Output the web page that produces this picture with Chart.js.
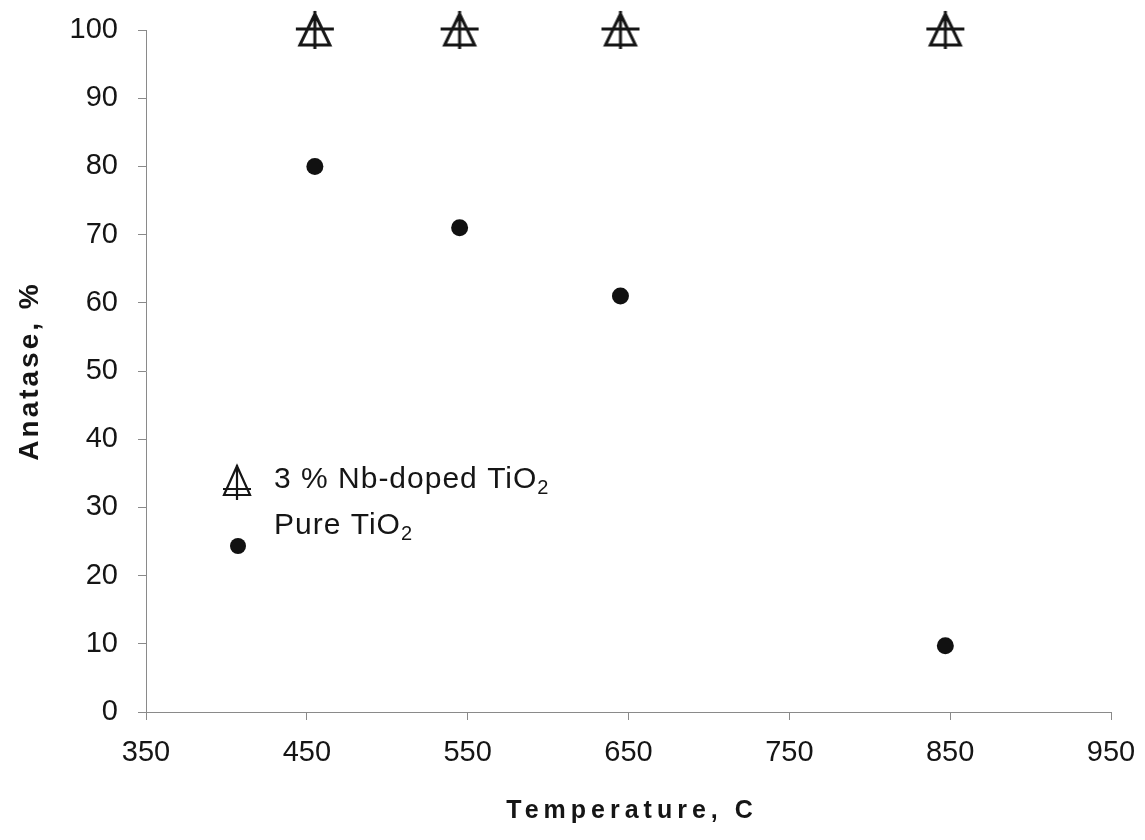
<!DOCTYPE html>
<html>
<head>
<meta charset="utf-8">
<script src="https://cdn.jsdelivr.net/npm/chart.js@4.4.0/dist/chart.umd.min.js"></script>
<style>
  html, body { margin: 0; padding: 0; background: #fff; }
  #wrap { width: 1145px; height: 840px; }
</style>
</head>
<body>
<div id="wrap"><canvas id="chartAnatase" width="1145" height="840"></canvas></div>
<script>
// dados: temperatura de calcinacao x fracao de anatase
const temperaturas = [455, 545, 645, 847];
const anataseNb = [100, 100, 100, 100];
const anatasePuro = [80, 71, 61, 9.7];

const ticksX = [350, 450, 550, 650, 750, 850, 950];
const ticksY = [0, 10, 20, 30, 40, 50, 60, 70, 80, 90, 100];

const legendaNb = ['3 % Nb-doped TiO', '2'];
const legendaPuro = ['Pure TiO', '2'];

const FONTE = '"Liberation Sans", Arial, sans-serif';
const COR_TEXTO = '#151515';
const COR_EIXO = '#8a8a8a';

// triangulo cortado por uma cruz (marcador da serie dopada)
function desenharTriangulo(ctx, cx, cy, meia, topo, base, barraY, barraMeia, vTopo, vBase) {
  ctx.beginPath();
  ctx.moveTo(cx, cy + topo);
  ctx.lineTo(cx + meia, cy + base);
  ctx.lineTo(cx - meia, cy + base);
  ctx.closePath();
  ctx.moveTo(cx - barraMeia, cy + barraY);
  ctx.lineTo(cx + barraMeia, cy + barraY);
  ctx.moveTo(cx, cy + vTopo);
  ctx.lineTo(cx, cy + vBase);
  ctx.stroke();
}

function criarMarcador() {
  const c = document.createElement('canvas');
  c.width = 48;
  c.height = 48;
  const g = c.getContext('2d');
  g.strokeStyle = COR_TEXTO;
  g.lineWidth = 3;
  g.lineJoin = 'miter';
  desenharTriangulo(g, 24, 24, 15, -16, 15, -1, 19, -19, 19);
  return c;
}

const marcadorNb = criarMarcador();

function pontos(xs, ys) {
  return xs.map((x, i) => ({ x: x, y: ys[i] }));
}

// titulos dos eixos (com espacamento entre letras) e legenda dentro do grafico
const extras = {
  id: 'extras',
  afterDraw(chart) {
    const ctx = chart.ctx;
    ctx.save();
    ctx.fillStyle = COR_TEXTO;
    ctx.textBaseline = 'alphabetic';

    ctx.font = 'bold 25px ' + FONTE;
    ctx.letterSpacing = '5px';
    ctx.textAlign = 'center';
    ctx.fillText('Temperature, C', 632, 818);

    ctx.save();
    ctx.translate(38, 371);
    ctx.rotate(-Math.PI / 2);
    ctx.font = 'bold 28px ' + FONTE;
    ctx.letterSpacing = '3px';
    ctx.fillText('Anatase, %', 0, 0);
    ctx.restore();

    // legenda
    ctx.letterSpacing = '1px';
    ctx.textAlign = 'left';
    const linhas = [
      { partes: legendaNb, y: 488 },
      { partes: legendaPuro, y: 534 }
    ];
    linhas.forEach(l => {
      ctx.font = '30px ' + FONTE;
      ctx.fillText(l.partes[0], 274, l.y);
      const w = ctx.measureText(l.partes[0]).width;
      ctx.font = '20px ' + FONTE;
      ctx.fillText(l.partes[1], 274 + w, l.y + 6);
    });

    ctx.strokeStyle = COR_TEXTO;
    ctx.lineWidth = 2.2;
    desenharTriangulo(ctx, 237, 481, 13, -15, 14, 8, 14, -16, 19);

    ctx.fillStyle = '#111';
    ctx.beginPath();
    ctx.arc(238, 546, 8, 0, Math.PI * 2);
    ctx.fill();
    ctx.restore();
  }
};

new Chart(document.getElementById('chartAnatase'), {
  type: 'scatter',
  data: {
    datasets: [
      {
        label: legendaNb.join(''),
        data: pontos(temperaturas, anataseNb),
        pointStyle: marcadorNb,
        clip: false
      },
      {
        label: legendaPuro.join(''),
        data: pontos(temperaturas, anatasePuro),
        pointStyle: 'circle',
        pointRadius: 8.5,
        backgroundColor: '#111',
        borderWidth: 0,
        clip: false
      }
    ]
  },
  options: {
    responsive: false,
    animation: false,
    layout: {
      padding: { left: 0, right: 34, top: 30, bottom: 0 }
    },
    plugins: {
      legend: { display: false },
      tooltip: { enabled: false }
    },
    scales: {
      x: {
        type: 'linear',
        min: 350,
        max: 950,
        afterBuildTicks: (scale) => { scale.ticks = ticksX.map(v => ({ value: v })); },
        afterFit: (scale) => {
          scale.height = 128;
          scale.paddingLeft = 0;
          scale.paddingRight = 0;
        },
        grid: { drawOnChartArea: false, color: COR_EIXO, tickLength: 8 },
        border: { color: COR_EIXO, width: 1 },
        ticks: {
          color: COR_TEXTO,
          padding: 16,
          font: { family: FONTE, size: 29 }
        }
      },
      y: {
        min: 0,
        max: 100,
        afterBuildTicks: (scale) => { scale.ticks = ticksY.map(v => ({ value: v })); },
        afterFit: (scale) => {
          scale.width = 146;
          scale.paddingTop = 0;
          scale.paddingBottom = 0;
        },
        grid: { drawOnChartArea: false, color: COR_EIXO, tickLength: 8 },
        border: { color: COR_EIXO, width: 1 },
        ticks: {
          color: COR_TEXTO,
          padding: 20,
          font: { family: FONTE, size: 29 }
        }
      }
    }
  },
  plugins: [extras]
});
</script>
</body>
</html>
